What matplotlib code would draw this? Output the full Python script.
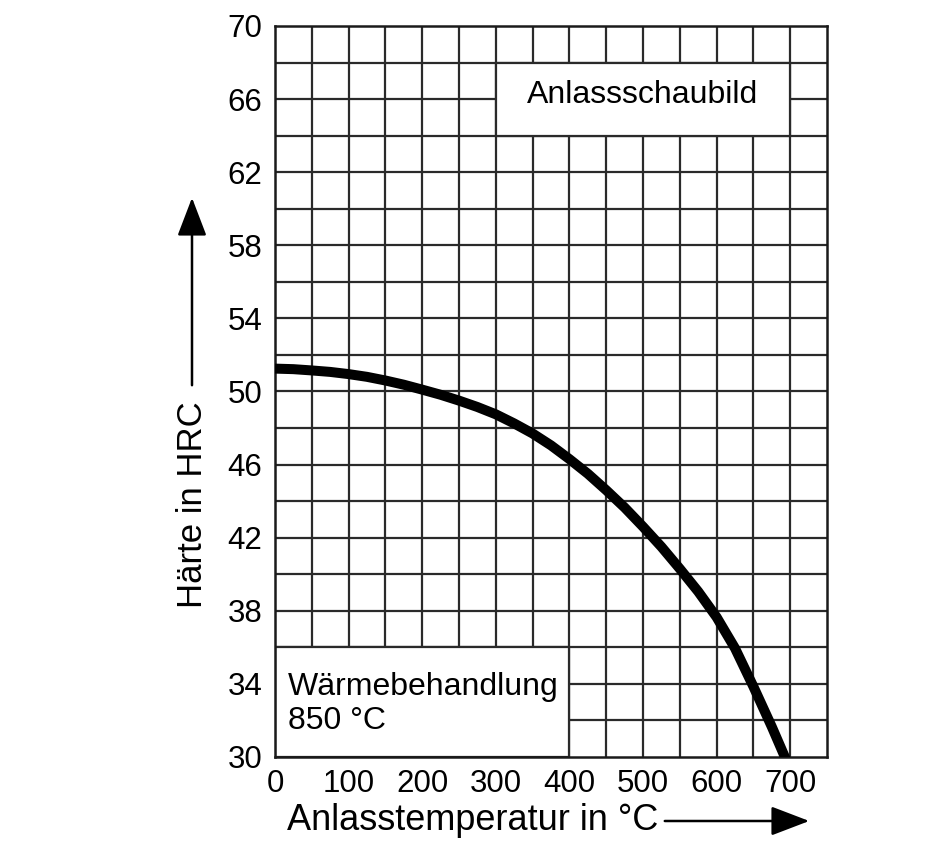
import matplotlib
matplotlib.use("Agg")
import matplotlib.pyplot as plt
from matplotlib.patches import Rectangle, FancyArrowPatch
import numpy as np

# Data
temperature = [0, 25, 50, 75, 100, 125, 150, 175, 200, 225, 250, 275, 300, 325, 350, 375,
               400, 425, 450, 475, 500, 525, 550, 575, 600, 625, 650, 675, 697]
hardness = [51.25, 51.22, 51.15, 51.07, 50.95, 50.8, 50.6, 50.37, 50.1, 49.82, 49.5, 49.15,
            48.75, 48.25, 47.7, 47.05, 46.3, 45.5, 44.6, 43.65, 42.6, 41.5, 40.3, 39.05,
            37.65, 35.95, 33.85, 31.65, 29.6]

x_ticks = [0, 100, 200, 300, 400, 500, 600, 700]
y_ticks = [30, 34, 38, 42, 46, 50, 54, 58, 62, 66, 70]

title_text = "Anlassschaubild"
note_line1 = "Wärmebehandlung"
note_line2 = "850 °C"
xlabel_text = "Anlasstemperatur in °C"
ylabel_text = "Härte in HRC"

plt.rcParams['font.family'] = ['Liberation Sans', 'DejaVu Sans']

fig = plt.figure(figsize=(9.33, 8.65), dpi=100)
ax = fig.add_axes([0.2947, 0.1249, 0.5917, 0.8451])
ax.set_xlim(0, 750)
ax.set_ylim(30, 70)

gcol = '#2a2a2a'
for xv in np.arange(50, 750, 50):
    ax.axvline(xv, color=gcol, lw=1.6, zorder=1)
for yv in np.arange(32, 70, 2):
    ax.axhline(yv, color=gcol, lw=1.6, zorder=1)

# white boxes
ax.add_patch(Rectangle((300, 64), 400, 4, facecolor='white', edgecolor=gcol, lw=1.6, zorder=2))
ax.add_patch(Rectangle((0, 30), 400, 6, facecolor='white', edgecolor=gcol, lw=1.6, zorder=2))

ax.text(500, 65.77, title_text, ha='center', va='baseline', fontsize=23, zorder=3)
ax.text(18, 33.39, note_line1, ha='left', va='baseline', fontsize=23, zorder=3)
ax.text(18, 31.52, note_line2, ha='left', va='baseline', fontsize=23, zorder=3)

ax.plot(temperature, hardness, color='black', lw=7.2, solid_capstyle='butt',
        solid_joinstyle='round', zorder=4, clip_on=True)

ax.set_xticks(x_ticks)
ax.set_yticks(y_ticks)
ax.tick_params(length=0, labelsize=22.5)
ax.tick_params(axis='y', pad=9)
ax.tick_params(axis='x', pad=9)
for s in ax.spines.values():
    s.set_linewidth(1.8)
    s.set_color('#1a1a1a')

# axis labels with arrows
fig.text(287/933, 1-820/865, xlabel_text, ha='left', va='center', fontsize=26)
fig.add_artist(FancyArrowPatch((662/933, 1-821/865), (812/933, 1-821/865),
               transform=fig.transFigure, arrowstyle='-|>,head_length=1.7,head_width=0.65',
               mutation_scale=14, color='black', lw=1.8))
fig.text(192/933, 1-505/865, ylabel_text, ha='center', va='center', fontsize=25, rotation=90)
fig.add_artist(FancyArrowPatch((192/933, 1-388/865), (192/933, 1-195/865),
               transform=fig.transFigure, arrowstyle='-|>,head_length=1.7,head_width=0.65',
               mutation_scale=14, color='black', lw=1.8))

fig.savefig("out.png", dpi=100, facecolor='white')
